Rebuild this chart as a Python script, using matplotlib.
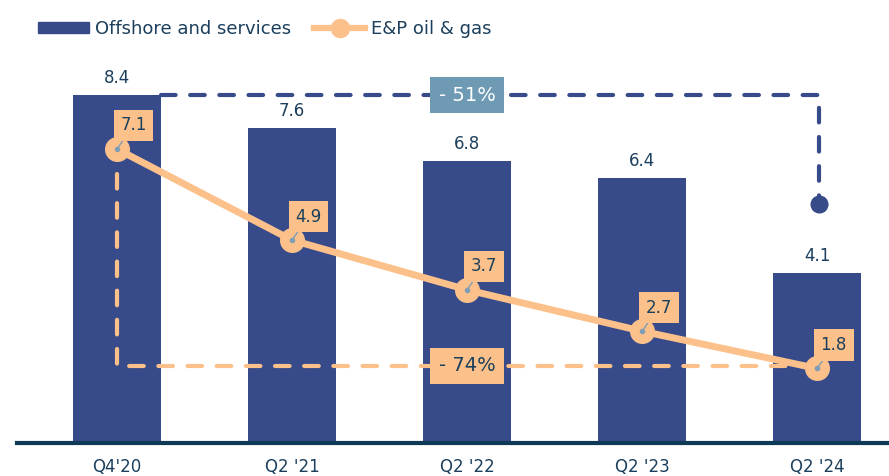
import matplotlib.pyplot as plt
from matplotlib.patches import Patch
from matplotlib.lines import Line2D

quarters = ["Q4'20", "Q2 '21", "Q2 '22", "Q2 '23", "Q2 '24"]
offshore = [8.4, 7.6, 6.8, 6.4, 4.1]
ep_oil_gas = [7.1, 4.9, 3.7, 2.7, 1.8]
offshore_change = "- 51%"
ep_change = "- 74%"

bar_color = '#374a8a'
line_color = '#fcc18a'
text_color = '#1b3f5c'
axis_color = '#0e3a55'
tag_color = '#6f9ab4'

plt.rcParams['font.family'] = ['DejaVu Sans']

fig = plt.figure(figsize=(8.89, 4.76), dpi=100)
ax = fig.add_axes([17 / 889, 33 / 476, 872 / 889, 443 / 476])

x = list(range(len(quarters)))
ax.bar(x, offshore, width=0.5, color=bar_color, zorder=2)
for xi, v in zip(x, offshore):
    ax.annotate(f'{v}', (xi, v), xytext=(0, 6), textcoords='offset points',
                ha='center', va='bottom', fontsize=12, color=text_color)

# change markers: blue from first bar top, orange from first line point
ax.plot([0.25, 4.01, 4.01], [offshore[0], offshore[0], 5.95], color=bar_color,
        lw=3, ls=(0, (3.5, 3.5)), dash_capstyle='round', zorder=3)
ax.plot([4.01], [5.77], 'o', color=bar_color, ms=12, zorder=3)
ax.text(2, offshore[0], offshore_change, ha='center', va='center', fontsize=14,
        color='white', zorder=4,
        bbox=dict(boxstyle='square,pad=0.45', fc=tag_color, ec='none'))

ax.plot([0, 0, 3.95], [6.5, ep_oil_gas[-1] + 0.06, ep_oil_gas[-1] + 0.06],
        color=line_color, lw=3, ls=(0, (3.5, 3.5)), dash_capstyle='round', zorder=3)
ax.text(2, ep_oil_gas[-1] + 0.06, ep_change, ha='center', va='center', fontsize=14,
        color=text_color, zorder=4,
        bbox=dict(boxstyle='square,pad=0.45', fc=line_color, ec='none'))

ax.plot(x, ep_oil_gas, color=line_color, lw=5, marker='o', ms=17,
        solid_capstyle='round', zorder=5)
ax.plot(x, ep_oil_gas, 'o', color='#7f9db5', ms=3, zorder=6)
for xi, v in zip(x, ep_oil_gas):
    ax.annotate(f'{v}', (xi, v), xytext=(12, 17), textcoords='offset points',
                ha='center', va='center', fontsize=12, color=text_color, zorder=7,
                bbox=dict(boxstyle='square,pad=0.4', fc=line_color, ec='none'),
                arrowprops=dict(arrowstyle='-', color='#7f9db5', lw=1,
                                shrinkA=0, shrinkB=0))

ax.set_xlim(-0.571, 4.411)
ax.set_ylim(0, 10.7)
ax.set_xticks(x)
ax.set_xticklabels(quarters, fontsize=12, color=text_color)
ax.tick_params(axis='x', length=0, pad=11)
ax.set_yticks([])
for s in ['top', 'right', 'left']:
    ax.spines[s].set_visible(False)
ax.spines['bottom'].set_color(axis_color)
ax.spines['bottom'].set_linewidth(3)

handles = [Patch(color=bar_color),
           Line2D([], [], color=line_color, lw=4.5, marker='o', ms=13)]
fig.legend(handles, ['Offshore and services', 'E&P oil & gas'], loc='center left',
           bbox_to_anchor=(38 / 889, 1 - 29 / 476), ncol=2, frameon=False,
           fontsize=13, labelcolor=text_color, handlelength=2.8, handleheight=0.6,
           handletextpad=0.35, columnspacing=1.3, borderpad=0, borderaxespad=0)

fig.savefig('out.png', dpi=100)
